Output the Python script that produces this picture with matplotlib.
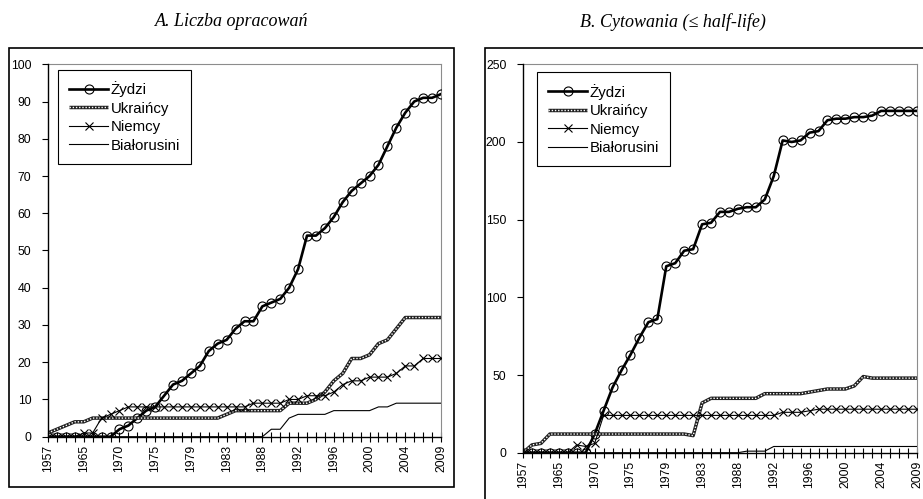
import matplotlib
matplotlib.use('Agg')
import matplotlib.pyplot as plt
from matplotlib.patches import Rectangle
from matplotlib.legend_handler import HandlerTuple

plt.rcParams['font.family'] = ['Liberation Sans', 'DejaVu Sans']

# Categories (45 publication years on a category axis; every 4th labelled)
years = [1957, 1959, 1961, 1963, 1965, 1966, 1967, 1969, 1970, 1971, 1972, 1974,
         1975, 1976, 1977, 1978, 1979, 1980, 1981, 1982, 1983, 1984, 1985, 1987,
         1988, 1989, 1990, 1991, 1992, 1993, 1994, 1995, 1996, 1997, 1998, 1999,
         2000, 2001, 2002, 2003, 2004, 2005, 2006, 2008, 2009]

series_names = ['Żydzi', 'Ukraińcy', 'Niemcy', 'Białorusini']

# Panel A: Liczba opracowań
a_zydzi = [0, 0, 0, 0, 0, 0, 0, 0, 2, 3, 5, 7, 8, 11, 14, 15, 17, 19, 23, 25, 26, 29,
           31, 31, 35, 36, 37, 40, 45, 54, 54, 56, 59, 63, 66, 68, 70, 73, 78, 83, 87,
           90, 91, 91, 92]
a_ukraincy = [1, 2, 3, 4, 4, 5, 5, 5, 5, 5, 5, 5, 5, 5, 5, 5, 5, 5, 5, 5, 6, 7, 7, 7,
              7, 7, 7, 9, 9, 9, 10, 12, 15, 17, 21, 21, 22, 25, 26, 29, 32, 32, 32, 32, 32]
a_niemcy = [0, 0, 0, 0, 1, 1, 5, 6, 7, 8, 8, 8, 8, 8, 8, 8, 8, 8, 8, 8, 8, 8, 8, 9, 9,
            9, 9, 10, 10, 11, 11, 11, 12, 14, 15, 15, 16, 16, 16, 17, 19, 19, 21, 21, 21]
a_bialorusini = [0, 0, 0, 0, 0, 0, 0, 0, 0, 0, 0, 0, 0, 0, 0, 0, 0, 0, 0, 0, 0, 0, 0, 0,
                 0, 2, 2, 5, 6, 6, 6, 6, 7, 7, 7, 7, 7, 8, 8, 9, 9, 9, 9, 9, 9]

# Panel B: Cytowania (<= half-life)
b_zydzi = [0, 0, 0, 0, 0, 0, 0, 0, 12, 27, 42, 53, 63, 74, 84, 86, 120, 122, 130, 131,
           147, 148, 155, 155, 157, 158, 158, 163, 178, 201, 200, 201, 206, 207, 214,
           215, 215, 216, 216, 217, 220, 220, 220, 220, 220]
b_ukraincy = [0, 5, 6, 12, 12, 12, 12, 12, 12, 12, 12, 12, 12, 12, 12, 12, 12, 12, 12,
              11, 32, 35, 35, 35, 35, 35, 35, 38, 38, 38, 38, 38, 39, 40, 41, 41, 41, 43,
              49, 48, 48, 48, 48, 48, 48]
b_niemcy = [0, 0, 0, 0, 0, 0, 5, 4, 6, 24, 24, 24, 24, 24, 24, 24, 24, 24, 24, 24, 24,
            24, 24, 24, 24, 24, 24, 24, 24, 26, 26, 26, 27, 28, 28, 28, 28, 28, 28, 28,
            28, 28, 28, 28, 28]
b_bialorusini = [0, 0, 0, 0, 0, 0, 0, 0, 0, 0, 0, 0, 0, 0, 0, 0, 0, 0, 0, 0, 0, 0, 0, 0,
                 0, 1, 1, 1, 4, 4, 4, 4, 4, 4, 4, 4, 4, 4, 4, 4, 4, 4, 4, 4, 4]

W, H = 923, 499
fig = plt.figure(figsize=(W / 100, H / 100), dpi=100)


def fx(px):
    return px / W


def fy(py):
    return 1 - py / H


def panel(rect, zyd, ukr, nie, bia, ymax, ystep, leg_anchor):
    ax = fig.add_axes(rect)
    x = list(range(len(years)))
    h1, = ax.plot(x, zyd, color='black', lw=1.9, marker='o', ms=6.5,
                  mfc='none', mec='black', mew=0.8, zorder=3)
    u_under, = ax.plot(x, ukr, color='#202020', lw=2.5, zorder=4,
                       solid_capstyle='butt')
    u_over, = ax.plot(x, ukr, color='white', lw=1.0, ls=(0, (1.0, 1.3)), zorder=5)
    h3, = ax.plot(x, nie, color='black', lw=0.8, marker='x', ms=6, mew=0.8, zorder=6)
    h4, = ax.plot(x, bia, color='black', lw=0.8, zorder=6)

    ax.set_xlim(0, len(years) - 1)
    ax.set_ylim(0, ymax)
    ax.set_yticks(list(range(0, ymax + 1, ystep)))
    ax.set_xticks(x)
    ax.set_xticklabels([str(y) if i % 4 == 0 else '' for i, y in enumerate(years)],
                       rotation=90)
    ax.tick_params(axis='x', direction='inout', length=7, width=0.8, pad=2.5,
                   labelsize=8.8, color='black')
    ax.tick_params(axis='y', direction='out', length=4, width=0.8, pad=8,
                   labelsize=8.8)
    for s in ('left', 'bottom'):
        ax.spines[s].set_color('black')
        ax.spines[s].set_linewidth(1.0)
        ax.spines[s].set_zorder(7)
    for s in ('top', 'right'):
        ax.spines[s].set_color('#8c8c8c')
        ax.spines[s].set_linewidth(0.8)
    for lab in ax.get_xticklabels():
        lab.set_va('top')

    leg = ax.legend([h1, (u_under, u_over), h3, h4], series_names,
                    loc='upper left', bbox_to_anchor=leg_anchor, borderaxespad=0,
                    fontsize=10.8, handlelength=2.6, handletextpad=0.15,
                    labelspacing=0.3, borderpad=0.75, fancybox=False,
                    numpoints=1, edgecolor='black', framealpha=1,
                    handler_map={tuple: HandlerTuple(ndivide=1)})
    leg.get_frame().set_linewidth(0.8)
    leg.set_zorder(10)
    return ax


# Panel A: plot area x 48..441, y 64.3..436.7
ax1 = panel([fx(48), fy(436.7), fx(441) - fx(48), fy(64.3) - fy(436.7)],
            a_zydzi, a_ukraincy, a_niemcy, a_bialorusini, 100, 10,
            (0.0254, 0.985))
# Panel B: plot area x 523..917, y 64.3..452.7
ax2 = panel([fx(523), fy(452.7), fx(917) - fx(523), fy(64.3) - fy(452.7)],
            b_zydzi, b_ukraincy, b_niemcy, b_bialorusini, 250, 50,
            (0.0355, 0.979))

# Outer chart-area frames
fig.add_artist(Rectangle((fx(9), fy(487)), fx(454) - fx(9), fy(48.3) - fy(487),
                         transform=fig.transFigure, fill=False, ec='black', lw=1.2))
fig.add_artist(Rectangle((fx(485), fy(520)), fx(940) - fx(485), fy(48.3) - fy(520),
                         transform=fig.transFigure, fill=False, ec='black', lw=1.2))

fig.text(fx(232), fy(22), 'A. Liczba opracowań', ha='center', va='center',
         family=['Liberation Serif', 'DejaVu Serif'], style='italic', size=13)
fig.text(fx(673), fy(22), 'B. Cytowania (≤ half-life)', ha='center', va='center',
         family=['Liberation Serif', 'DejaVu Serif'], style='italic', size=13)

fig.savefig('out.png', dpi=100)
